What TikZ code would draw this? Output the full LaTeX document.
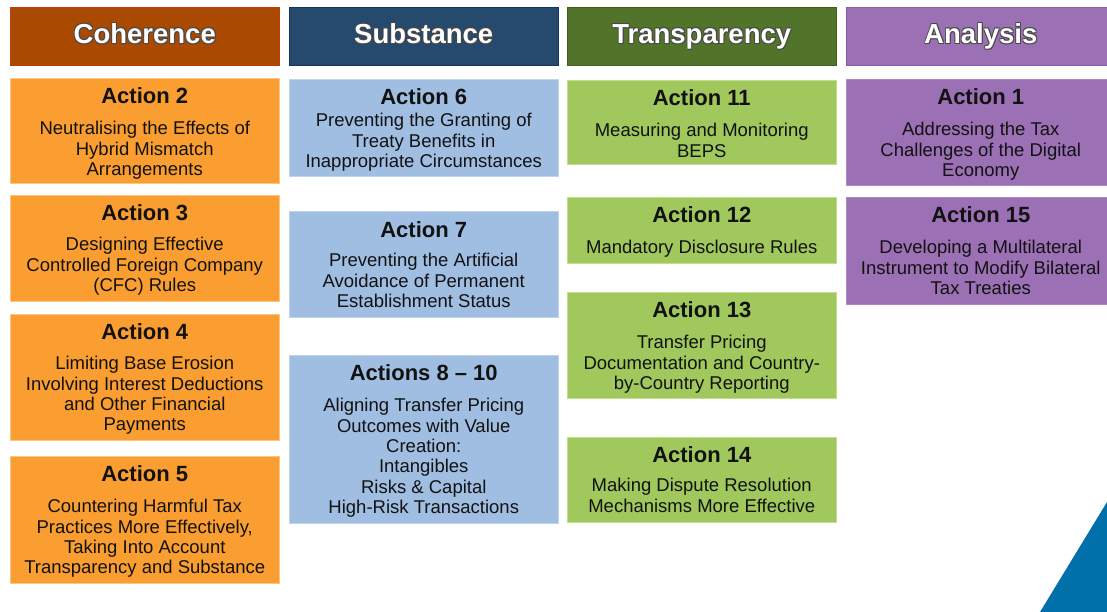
\documentclass[tikz,border=0pt]{standalone}
\usepackage{fontspec}
\setmainfont{Liberation Sans}
\usetikzlibrary{calc}

% column colours
\definecolor{cohfill}{RGB}{170,74,0}
\definecolor{cohline}{RGB}{196,58,18}
\definecolor{subfill}{RGB}{38,74,110}
\definecolor{subline}{RGB}{22,52,92}
\definecolor{trafill}{RGB}{82,116,42}
\definecolor{traline}{RGB}{62,96,26}
\definecolor{anafill}{RGB}{156,112,180}
\definecolor{analine}{RGB}{140,92,170}
\definecolor{orgfill}{RGB}{250,158,50}
\definecolor{orgline}{RGB}{253,196,130}
\definecolor{blufill}{RGB}{160,190,225}
\definecolor{bluline}{RGB}{192,212,236}
\definecolor{grnfill}{RGB}{160,200,92}
\definecolor{grnline}{RGB}{192,222,140}
\definecolor{purline}{RGB}{176,140,198}
\definecolor{inktext}{RGB}{18,18,18}
\definecolor{cornerblue}{RGB}{0,112,170}
\colorlet{glowc}{black!72}

% white heading text with a dark halo
\newcommand\glowtext[1]{%
  \setbox0=\hbox{#1}%
  \rlap{\color{glowc}\kern1pt\raise-1pt\copy0}%
  \rlap{\color{glowc}\kern-0.7pt\raise0.7pt\copy0}%
  \rlap{\color{glowc}\kern1pt\raise0.7pt\copy0}%
  \rlap{\color{glowc}\kern-0.7pt\raise-1pt\copy0}%
  {\color{white}\box0}}

\tikzset{
  x=1pt, y=-1pt,
  panel/.style={rectangle, inner sep=0pt, outer sep=0pt, line width=1pt,
    minimum width=269.5pt},
  hdrbox/.style={panel, minimum height=58pt},
  cohhdr/.style={hdrbox, fill=cohfill, draw=cohline},
  subhdr/.style={hdrbox, fill=subfill, draw=subline},
  trahdr/.style={hdrbox, fill=trafill, draw=traline},
  anahdr/.style={hdrbox, fill=anafill, draw=analine},
  orgbox/.style={panel, fill=orgfill, draw=orgline},
  blubox/.style={panel, fill=blufill, draw=bluline},
  grnbox/.style={panel, fill=grnfill, draw=grnline},
  purbox/.style={panel, fill=anafill, draw=purline},
  hdrtext/.style={inner sep=0pt, font=\bfseries\fontsize{27.5}{30}\selectfont},
  titletext/.style={inner sep=0pt, text=inktext,
    font=\bfseries\fontsize{22}{24}\selectfont},
  bodytext/.style={inner sep=0pt, text=inktext, align=center,
    font=\fontsize{18.5}{20.4}\selectfont},
}

% #1 name, #2 style, #3 left, #4 top, #5 height, #6 title, #7 body, #8 first body line offset
\newcommand\actbox[8]{%
  \node[#2, minimum height=#5pt, anchor=north west] (#1) at (#3,#4) {};
  \node[titletext, anchor=base] (#1-t) at ($(#1.north)+(0,25)$) {#6};
  \node[bodytext, anchor=north] (#1-b) at ($(#1.north)+(0,#8-7.7)$) {\strut #7};
}

% #1 name, #2 style, #3 left, #4 label
\newcommand\hdrbox[4]{%
  \node[#2, anchor=north west] (#1) at (#3,8) {};
  \node[hdrtext, anchor=base] (#1-t) at (#1.center |- 0,43.5) {\glowtext{#4}};
}

\begin{document}
\begin{tikzpicture}
\useasboundingbox (0,0) rectangle (1107,612);
\clip (0,0) rectangle (1107,612);

% column headings
\hdrbox{coh}{cohhdr}{10}{Coherence}
\hdrbox{sub}{subhdr}{289}{Substance}
\hdrbox{tra}{trahdr}{567}{Transparency}
\hdrbox{ana}{anahdr}{846}{Analysis}

% Coherence
\actbox{a2}{orgbox}{10}{79}{105}{Action 2}{Neutralising the Effects of\\Hybrid Mismatch\\Arrangements}{49}
\actbox{a3}{orgbox}{10}{196}{105}{Action 3}{Designing Effective\\Controlled Foreign Company\\(CFC) Rules}{48}
\actbox{a4}{orgbox}{10}{314}{126}{Action 4}{Limiting Base Erosion\\Involving Interest Deductions\\and Other Financial\\Payments}{49}
\actbox{a5}{orgbox}{10}{456}{127}{Action 5}{Countering Harmful Tax\\Practices More Effectively,\\Taking Into Account\\Transparency and Substance}{50}

% Substance
\actbox{a6}{blubox}{289}{80}{97}{Action 6}{Preventing the Granting of\\Treaty Benefits in\\Inappropriate Circumstances}{40}
\actbox{a7}{blubox}{289}{212}{105}{Action 7}{Preventing the Artificial\\Avoidance of Permanent\\Establishment Status}{48}
\actbox{a8}{blubox}{289}{355}{168}{Actions 8 -- 10}{Aligning Transfer Pricing\\Outcomes with Value\\Creation:\\Intangibles\\Risks \& Capital\\High-Risk Transactions}{50}

% Transparency
\actbox{a11}{grnbox}{567}{81}{84}{Action 11}{Measuring and Monitoring\\BEPS}{49}
\actbox{a12}{grnbox}{567}{198}{65}{Action 12}{Mandatory Disclosure Rules}{49}
\actbox{a13}{grnbox}{567}{292}{106}{Action 13}{Transfer Pricing\\Documentation and Country-\\by-Country Reporting}{50}
\actbox{a14}{grnbox}{567}{437}{85}{Action 14}{Making Dispute Resolution\\Mechanisms More Effective}{48}

% Analysis
\actbox{a1}{purbox}{846}{80}{106}{Action 1}{Addressing the Tax\\Challenges of the Digital\\Economy}{49}
\actbox{a15}{purbox}{846}{198}{106}{Action 15}{Developing a Multilateral\\Instrument to Modify Bilateral\\Tax Treaties}{49}

% blue corner wedge
\fill[cornerblue] (1040,612) -- (1107,502) -- (1107,612) -- cycle;
\end{tikzpicture}
\end{document}
